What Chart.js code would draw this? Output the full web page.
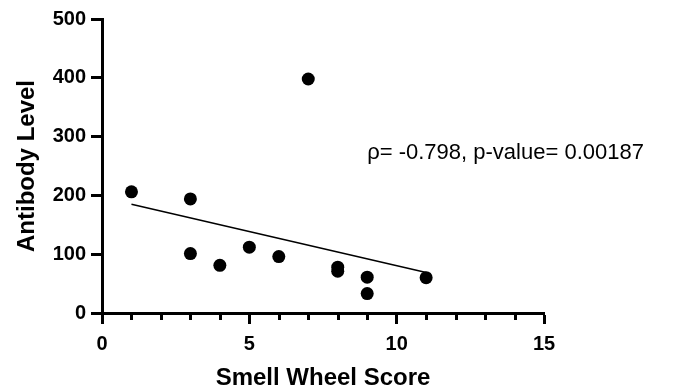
<!DOCTYPE html>
<html><head><meta charset="utf-8">
<script src="https://cdn.jsdelivr.net/npm/chart.js@4.4.1/dist/chart.umd.min.js"></script>
<style>html,body{margin:0;padding:0;background:#fff}#wrap{width:686px;height:391px}</style>
</head><body><div id="wrap"><canvas id="c" width="686" height="391"></canvas></div>
<script>
// ---- data ----
const smellScore   = [1, 3, 3, 4, 5, 6, 7, 8, 8, 9, 9, 11];
const antibodyLvl  = [206, 194, 101, 81, 112, 96, 398, 78, 71, 61, 33, 60];
const trendX       = [1, 11];
const trendY       = [185, 69];
const xTickValues  = [0, 5, 10, 15];
const yTickValues  = [0, 100, 200, 300, 400, 500];
const annotationText = "\u03C1= -0.798, p-value= 0.00187";

const FONT = "'Liberation Sans', Arial, Helvetica, sans-serif";
const annotationAt = {x: 9.0, y: 272};

const points = smellScore.map((x, i) => ({x: x, y: antibodyLvl[i]}));
const trend = trendX.map((x, i) => ({x: x, y: trendY[i]}));

const extras = {
  id: 'extras',
  afterDraw(chart) {
    const ctx = chart.ctx, xs = chart.scales.x, ys = chart.scales.y;
    ctx.save();
    ctx.strokeStyle = '#000'; ctx.lineWidth = 3;
    const yb = ys.getPixelForValue(0);
    for (let v = xs.min; v <= xs.max; v++) {
      if (xTickValues.includes(v)) continue;
      const px = Math.round(xs.getPixelForValue(v)) + 0.5;
      ctx.beginPath(); ctx.moveTo(px, yb); ctx.lineTo(px, yb + 7); ctx.stroke();
    }
    ctx.fillStyle = '#000';
    ctx.font = "22px " + FONT;
    ctx.textAlign = 'left'; ctx.textBaseline = 'middle';
    ctx.fillText(annotationText, xs.getPixelForValue(annotationAt.x), ys.getPixelForValue(annotationAt.y));
    ctx.restore();
  }
};

new Chart(document.getElementById('c'), {
  type: 'scatter',
  data: {
    datasets: [
      {data: points, backgroundColor: '#000', borderColor: '#000', pointRadius: 6.5, pointBorderWidth: 0, clip: false, order: 2},
      {type: 'line', data: trend, borderColor: '#000', borderWidth: 1.5, pointRadius: 0, fill: false, showLine: true, clip: false, order: 1}
    ]
  },
  options: {
    responsive: false, animation: false, devicePixelRatio: 1,
    layout: {padding: {left: 0, right: 142, top: 19, bottom: 0}},
    plugins: {legend: {display: false}, tooltip: {enabled: false}},
    scales: {
      x: {
        type: 'linear', min: 0, max: 15,
        afterFit(s) { s.height = 78; },
        afterBuildTicks(s) { const t = []; for (let v = 0; v <= 15; v++) t.push({value: v}); s.ticks = t; },
        border: {display: true, color: '#000', width: 3},
        grid: {drawOnChartArea: false, drawTicks: true, tickLength: 11, tickWidth: 3,
               tickColor: (c) => xTickValues.includes(c.tick && c.tick.value) ? '#000' : 'rgba(0,0,0,0)'},
        ticks: {autoSkip: false, maxRotation: 0, padding: 8, color: '#000',
                font: {family: FONT, size: 20, weight: 'bold'},
                callback: (v) => xTickValues.includes(v) ? String(v) : ''},
        title: {display: true, text: 'Smell Wheel Score', color: '#000',
                font: {family: FONT, size: 24, weight: 'bold'}, padding: {top: 0, bottom: -2}}
      },
      y: {
        type: 'linear', min: 0, max: 500,
        afterFit(s) { s.width = 102; },
        afterBuildTicks(s) { s.ticks = yTickValues.map(v => ({value: v})); },
        border: {display: true, color: '#000', width: 3},
        grid: {drawOnChartArea: false, drawTicks: true, tickLength: 11, tickWidth: 3, tickColor: '#000'},
        ticks: {padding: 5, color: '#000', font: {family: FONT, size: 20, weight: 'bold'}},
        title: {display: true, text: 'Antibody Level', color: '#000',
                font: {family: FONT, size: 24, weight: 'bold'}, padding: {top: 13, bottom: 0}}
      }
    }
  },
  plugins: [extras]
});
</script>
</body></html>
